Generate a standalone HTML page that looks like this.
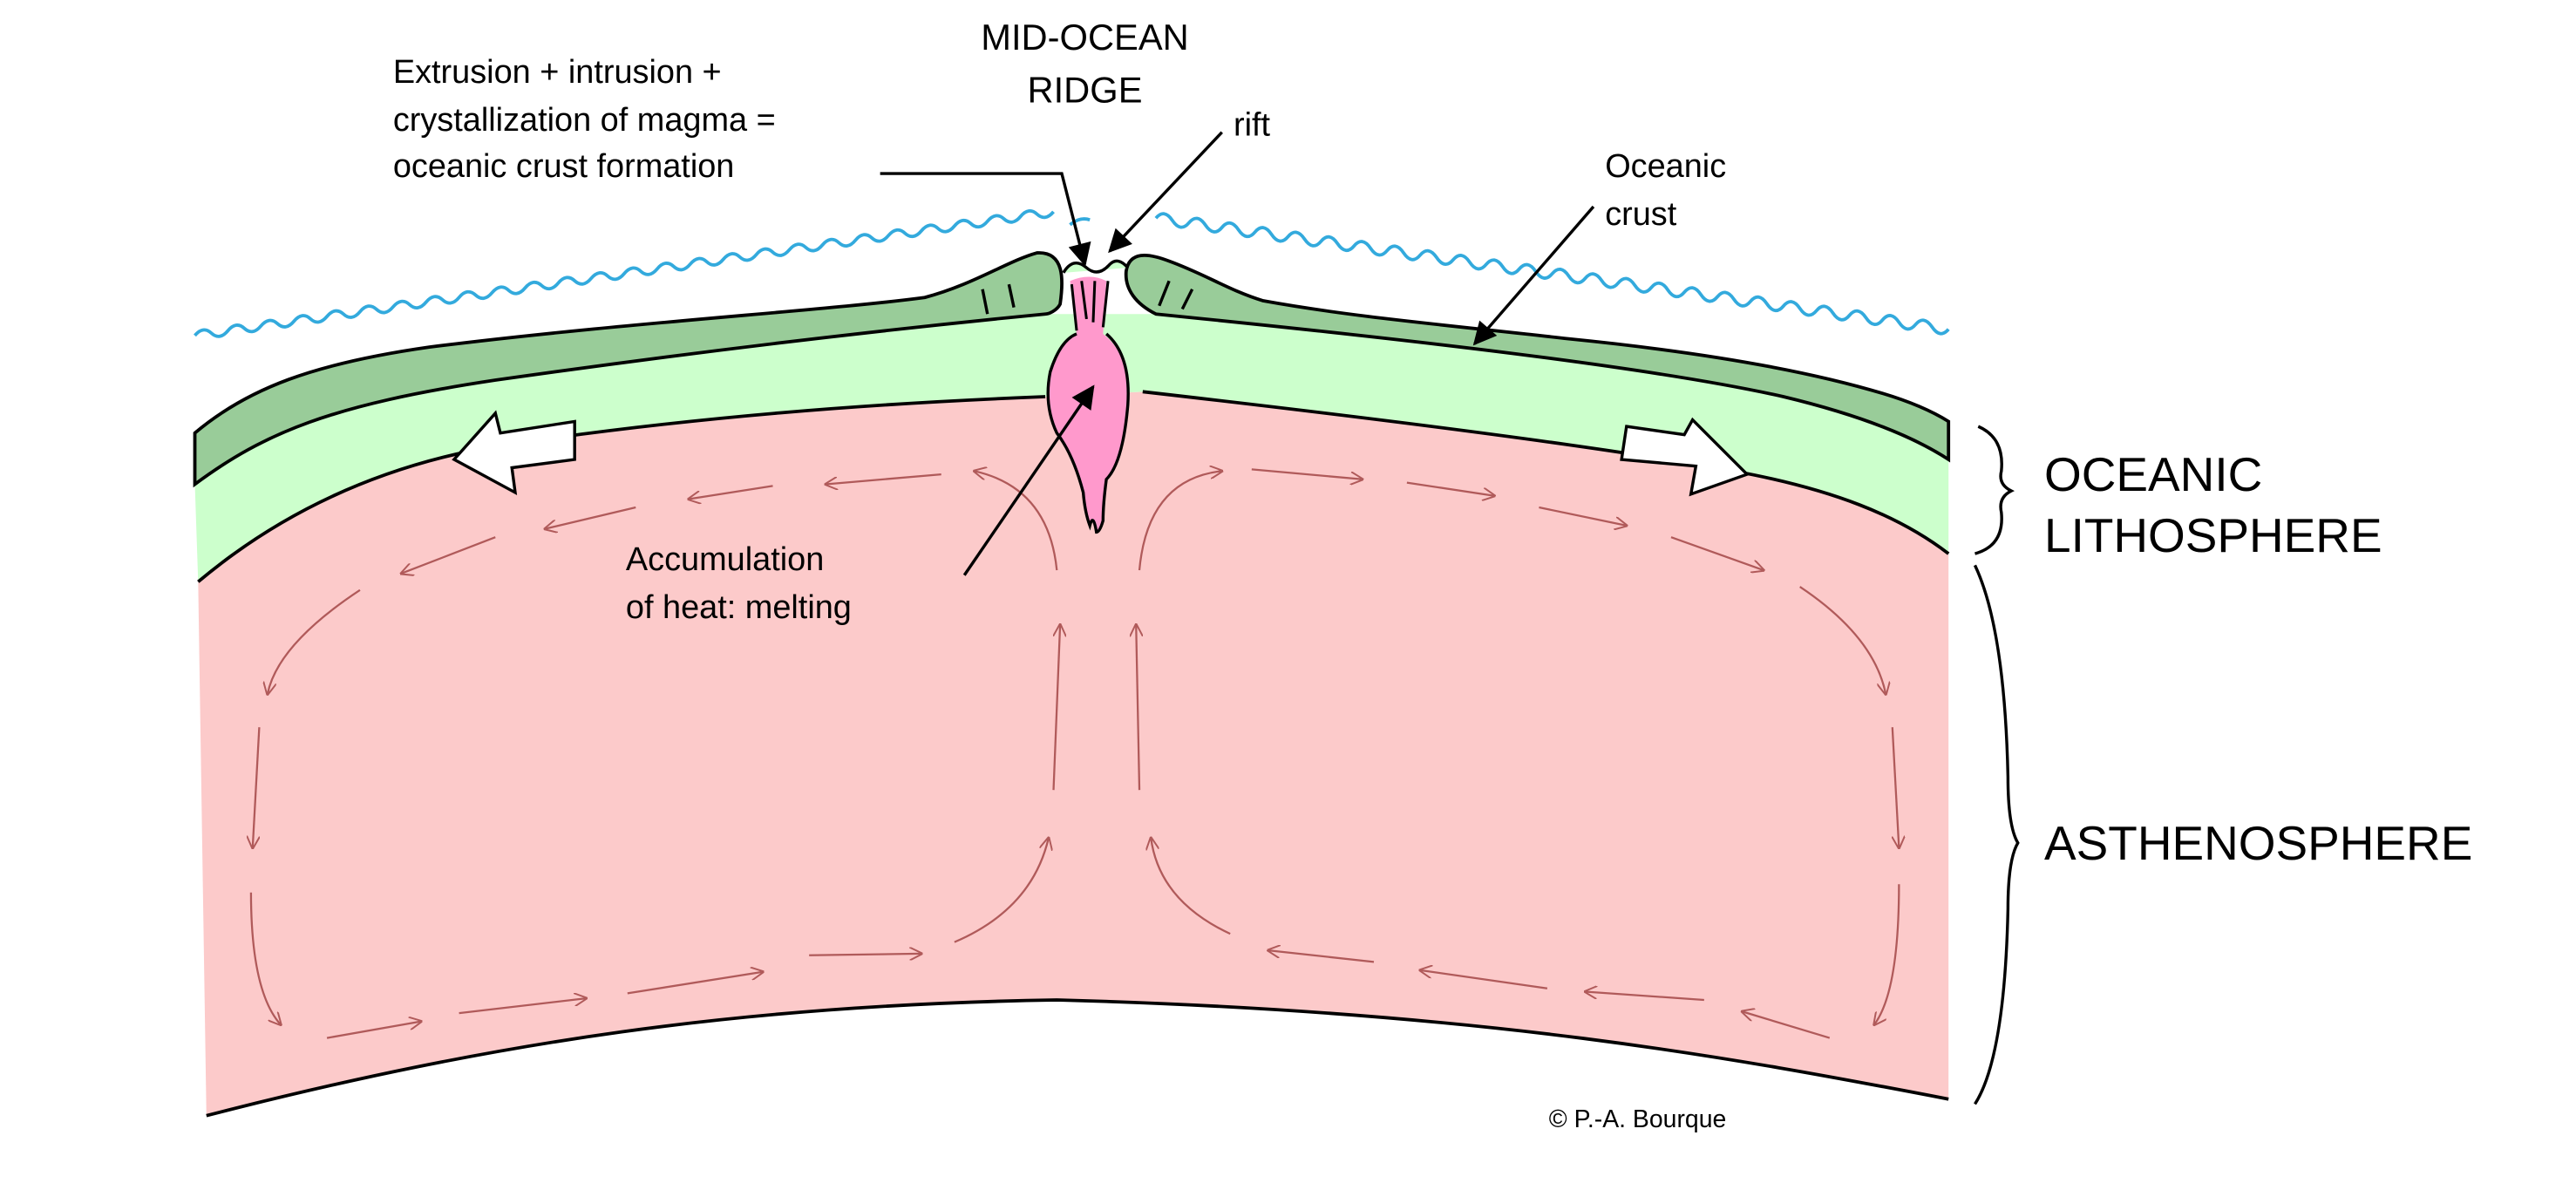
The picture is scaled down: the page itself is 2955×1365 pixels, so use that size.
<!DOCTYPE html>
<html><head><meta charset="utf-8"><style>
html,body{margin:0;padding:0;background:#fff;}
svg{display:block;}
text{font-family:"Liberation Sans",sans-serif;fill:#000;}
</style></head><body>
<svg width="2955" height="1365" viewBox="0 0 1560 720" preserveAspectRatio="none" xmlns="http://www.w3.org/2000/svg">
<defs>
<marker id="ah" viewBox="0 0 10 10" refX="9" refY="5" markerWidth="8" markerHeight="8" orient="auto" markerUnits="userSpaceOnUse"><path d="M0,0 L10,5 L0,10" fill="none" stroke="#b05a5a" stroke-width="1.3"/></marker>
<marker id="bk" viewBox="0 0 10 10" refX="9" refY="5" markerWidth="18" markerHeight="14" orient="auto" markerUnits="userSpaceOnUse"><path d="M0,0 L10,5 L0,10 Z" fill="#000"/></marker>
</defs>
<!-- water -->
<path d="M118,203 q5,-6 10,-1.44 t10,-1.44 t10,-1.44 t10,-1.44 t10,-1.44 t10,-1.44 t10,-1.44 t10,-1.44 t10,-1.44 t10,-1.44 t10,-1.44 t10,-1.44 t10,-1.44 t10,-1.44 t10,-1.44 t10,-1.44 t10,-1.44 t10,-1.44 t10,-1.44 t10,-1.44 t10,-1.44 t10,-1.44 t10,-1.44 t10,-1.44 t10,-1.44 t10,-1.44 t10,-1.44 t10,-1.44 t10,-1.44 t10,-1.44 t10,-1.44 t10,-1.44 t10,-1.44 t10,-1.44 t10,-1.44 t10,-1.44 t10,-1.44 t10,-1.44 t10,-1.44 t10,-1.44 t10,-1.44 t10,-1.44 t10,-1.44 t10,-1.44 t10,-1.44 t10,-1.44 t10,-1.44 t10,-1.44 t10,-1.44 t10,-1.44 t10,-1.44 t10,-1.44" fill="none" stroke="#33aadd" stroke-width="2"/>
<path d="M648,136 q6,-5 12,-3" fill="none" stroke="#33aadd" stroke-width="2"/>
<path d="M700,132 q5,-6 10,1.4 t10,1.4 t10,1.4 t10,1.4 t10,1.4 t10,1.4 t10,1.4 t10,1.4 t10,1.4 t10,1.4 t10,1.4 t10,1.4 t10,1.4 t10,1.4 t10,1.4 t10,1.4 t10,1.4 t10,1.4 t10,1.4 t10,1.4 t10,1.4 t10,1.4 t10,1.4 t10,1.4 t10,1.4 t10,1.4 t10,1.4 t10,1.4 t10,1.4 t10,1.4 t10,1.4 t10,1.4 t10,1.4 t10,1.4 t10,1.4 t10,1.4 t10,1.4 t10,1.4 t10,1.4 t10,1.4 t10,1.4 t10,1.4 t10,1.4 t10,1.4 t10,1.4 t10,1.4 t10,1.4 t10,1.4" fill="none" stroke="#33aadd" stroke-width="2"/>
<!-- asthenosphere -->
<path d="M120,352 C170,310 230,282 300,270 C420,252 530,244 633,240 L692,237 C850,255 980,272 1050,285 C1110,296 1150,312 1180,335 L1180,665 C1050,640 900,612 640,605 C450,608 300,630 125,675 Z" fill="#fccaca"/>
<path d="M125,675 C300,630 450,608 640,605 C900,612 1050,640 1180,665" fill="none" stroke="#000" stroke-width="2"/>
<!-- light green lithosphere -->
<path d="M118,293 C160,262 200,245 300,230 C420,213 530,200 633,190 L700,190 C850,205 1000,222 1080,240 C1130,252 1160,265 1180,278 L1180,335 C1150,312 1110,296 1050,285 C980,272 850,255 692,237 L633,240 C530,244 420,252 300,270 C230,282 170,310 120,352 Z" fill="#ccffcc"/>
<path d="M120,352 C170,310 230,282 300,270 C420,252 530,244 633,240" fill="none" stroke="#000" stroke-width="2"/>
<path d="M692,237 C850,255 980,272 1050,285 C1110,296 1150,312 1180,335" fill="none" stroke="#000" stroke-width="2"/>
<!-- dark green crust left -->
<path d="M118,262 C150,235 190,220 260,210 C380,195 500,188 560,180 C590,172 610,158 628,153 C645,152 644,170 642,184 C640,188 635,190 633,190 C530,200 420,213 300,230 C200,245 160,262 118,293 Z" fill="#99cc99" stroke="#000" stroke-width="2"/>
<!-- dark green crust right -->
<path d="M682,164 C684,152 695,153 708,158 C730,166 745,176 765,182 C820,192 880,197 950,205 C1040,214 1100,226 1140,238 C1160,244 1172,250 1180,255 L1180,278 C1160,265 1130,252 1080,240 C1000,222 850,205 700,190 C688,184 681,175 682,164 Z" fill="#99cc99" stroke="#000" stroke-width="2"/>
<line x1="595" y1="175" x2="598" y2="190" stroke="#000" stroke-width="1.8"/>
<line x1="611" y1="172" x2="614" y2="186" stroke="#000" stroke-width="1.8"/>
<line x1="708" y1="170" x2="702" y2="185" stroke="#000" stroke-width="1.8"/>
<line x1="722" y1="175" x2="716" y2="187" stroke="#000" stroke-width="1.8"/>
<!-- rift top -->
<path d="M644,165 Q650,155 658,162 Q665,168 672,160 Q677,155 683,162" fill="#ccffcc" stroke="#000" stroke-width="1.8"/>
<!-- magma -->
<path d="M648,170 Q660,165 670,170 L668,202 Q685,215 683,245 Q680,280 670,290 Q668,305 668,315 Q666,322 664,322 Q662,310 660,318 Q657,310 656,298 Q650,275 640,262 Q632,245 636,225 Q642,206 652,202 Z" fill="#ff99cc"/>
<path d="M652,202 Q642,206 636,225 Q632,245 640,262 Q650,275 656,298 Q657,310 660,318 Q662,310 664,322 Q666,322 668,315 Q668,305 670,290 Q680,280 683,245 Q685,215 670,202" fill="none" stroke="#000" stroke-width="1.8"/>
<path d="M649,172 L652,200 M655,170 L658,193 M663,170 L662,195 M671,170 L668,198" fill="none" stroke="#000" stroke-width="1.6"/>
<!-- white arrows -->
<path d="M348,255 L348,278 L310,283 L312,298 L275,278 L300,250 L303,262 Z" fill="#fff" stroke="#000" stroke-width="1.8"/>
<path d="M985,258 L1020,263 L1025,254 L1058,287 L1024,299 L1027,282 L982,278 Z" fill="#fff" stroke="#000" stroke-width="1.8"/>
<!-- circulation arrows -->
<g fill="none" stroke="#b05a5a" stroke-width="1.2" marker-end="url(#ah)">
<path d="M640,345 Q635,295 590,285"/>
<path d="M570,287 L500,293"/>
<path d="M468,294 L417,302"/>
<path d="M385,307 L330,320"/>
<path d="M300,325 L243,347"/>
<path d="M218,357 Q168,390 162,420"/>
<path d="M157,440 L153,513"/>
<path d="M152,540 Q152,600 170,620"/>
<path d="M198,628 L255,618"/>
<path d="M278,613 L355,604"/>
<path d="M380,601 L462,588"/>
<path d="M490,578 L558,577"/>
<path d="M578,570 Q625,550 635,507"/>
<path d="M638,478 L642,378"/>
<path d="M690,478 L688,378"/>
<path d="M690,345 Q695,290 740,285"/>
<path d="M758,284 L825,290"/>
<path d="M852,292 L905,300"/>
<path d="M932,307 L985,318"/>
<path d="M1012,325 L1068,345"/>
<path d="M1090,355 Q1135,385 1142,420"/>
<path d="M1146,440 L1150,513"/>
<path d="M1150,535 Q1150,600 1135,620"/>
<path d="M1108,628 L1055,612"/>
<path d="M1032,605 L960,600"/>
<path d="M937,598 L860,587"/>
<path d="M832,582 L768,575"/>
<path d="M745,565 Q702,545 697,507"/>
</g>
<!-- pointers -->
<path d="M533,105 L643,105 L657,160" fill="none" stroke="#000" stroke-width="1.8" marker-end="url(#bk)"/>
<line x1="740" y1="80" x2="672" y2="152" stroke="#000" stroke-width="1.8" marker-end="url(#bk)"/>
<line x1="965" y1="125" x2="893" y2="208" stroke="#000" stroke-width="1.8" marker-end="url(#bk)"/>
<line x1="584" y1="348" x2="662" y2="234" stroke="#000" stroke-width="1.8" marker-end="url(#bk)"/>
<!-- braces -->
<path d="M1198,258 Q1214,265 1212,285 Q1210,293 1218,297 Q1210,301 1212,310 Q1214,330 1196,335" fill="none" stroke="#000" stroke-width="1.8"/>
<path d="M1196,342 Q1214,380 1216,470 Q1216,500 1222,510 Q1216,520 1216,550 Q1214,640 1196,668" fill="none" stroke="#000" stroke-width="1.8"/>
<!-- text -->
<text x="657" y="30" font-size="22" text-anchor="middle">MID-OCEAN</text>
<text x="657" y="62" font-size="22" text-anchor="middle">RIDGE</text>
<text x="238" y="50" font-size="20">Extrusion + intrusion +</text>
<text x="238" y="79" font-size="20">crystallization of magma =</text>
<text x="238" y="107" font-size="20">oceanic crust formation</text>
<text x="747" y="82" font-size="20">rift</text>
<text x="972" y="107" font-size="20">Oceanic</text>
<text x="972" y="136" font-size="20">crust</text>
<text x="379" y="345" font-size="20">Accumulation</text>
<text x="379" y="374" font-size="20">of heat: melting</text>
<text x="1238" y="297" font-size="29">OCEANIC</text>
<text x="1238" y="334" font-size="29">LITHOSPHERE</text>
<text x="1238" y="520" font-size="29">ASTHENOSPHERE</text>
<text x="938" y="682" font-size="15">© P.-A. Bourque</text>
</svg>
</body></html>
